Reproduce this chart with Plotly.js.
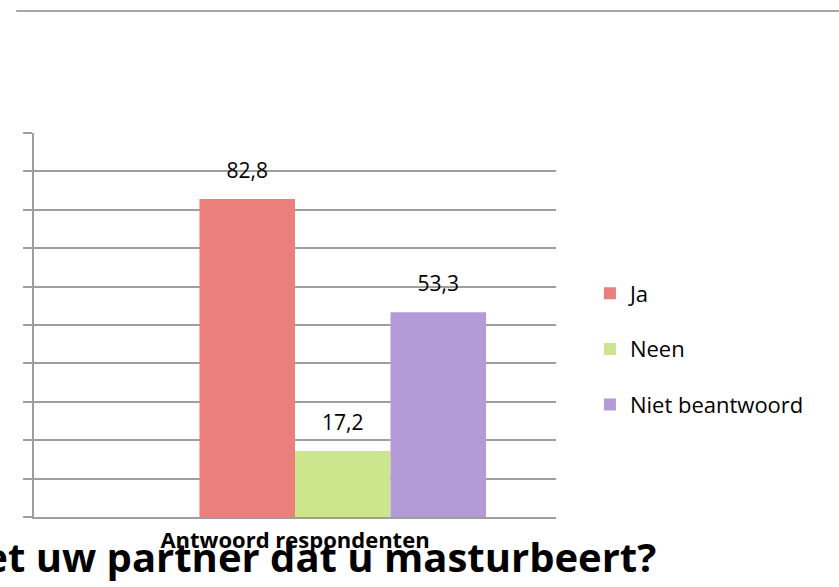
<!DOCTYPE html>
<html>
<head>
<meta charset="utf-8">
<script src="https://cdn.plot.ly/plotly-3.0.1.min.js"></script>
<style>html,body{margin:0;padding:0;background:#fff;}#chart{width:839px;height:587px;}</style>
</head>
<body>
<div id="chart"></div>
<script>
var categories = ["Antwoord respondenten"];
var seriesNames = ["Ja", "Neen", "Niet beantwoord"];
var seriesValues = [[82.8], [17.2], [53.3]];
var seriesColors = ["#ea7f7b", "#cbe68c", "#b39bd7"];
var titleText = "Weet uw partner dat u masturbeert?";

var traces = [];
// empty first series slot (present in the original chart, no value)
traces.push({type: "bar", x: categories, y: [null], showlegend: false, hoverinfo: "skip", offsetgroup: "s0", marker: {color: "rgba(0,0,0,0)"}});
for (var i = 0; i < seriesNames.length; i++) {
  traces.push({
    type: "bar",
    name: seriesNames[i],
    x: categories,
    y: seriesValues[i],
    legendgroup: "g" + i,
    offsetgroup: "s" + (i + 1),
    marker: {color: seriesColors[i]}
  });
}
// value labels, aligned to the bars through the same offset groups
traces.push({type: "scatter", mode: "markers", x: categories, y: [null], showlegend: false, offsetgroup: "s0", marker: {size: 1, opacity: 0}});
for (var j = 0; j < seriesNames.length; j++) {
  traces.push({
    type: "scatter",
    mode: "markers+text",
    x: categories,
    y: seriesValues[j],
    offsetgroup: "s" + (j + 1),
    showlegend: false,
    marker: {size: 24, opacity: 0},
    text: seriesValues[j].map(function(v){ return v.toFixed(1).replace(".", ","); }),
    textposition: "top center",
    textfont: {family: "Open Sans", size: 21, color: "#000"},
    cliponaxis: false
  });
}

var layout = {
  width: 839, height: 587,
  margin: {l: 34, r: 283, t: 133, b: 70},
  paper_bgcolor: "#fff", plot_bgcolor: "#fff",
  barmode: "group", bargap: 0.268, bargroupgap: 0,
  scattermode: "group", scattergap: 0.268,
  font: {family: "Open Sans", color: "#000"},
  showlegend: true,
  legend: {x: 1.065, xanchor: "left", y: 0.4375, yanchor: "middle", font: {family: "Open Sans", size: 22, color: "#000"},
           tracegroupgap: 24, traceorder: "grouped", itemwidth: 30},
  xaxis: {showline: true, linecolor: "#9e9e9e", linewidth: 2, tickfont: {family: "Open Sans", size: 22, color: "#000", weight: "bold"},
          ticks: "", showgrid: false, fixedrange: true, ticklabelstandoff: 3},
  yaxis: {range: [0, 100], dtick: 10, showticklabels: false, ticks: "outside", ticklen: 9, tickwidth: 2, tickcolor: "#9e9e9e",
          showgrid: true, gridcolor: "#9e9e9e", gridwidth: 2, showline: true, linecolor: "#9e9e9e", linewidth: 2, zeroline: false},
  shapes: [{type: "line", xref: "paper", yref: "paper", x0: -0.034, x1: 1.6, y0: 1.318, y1: 1.318, line: {color: "#a6a6a6", width: 2}}],
  annotations: [{text: "<b>" + titleText + "</b>", xref: "paper", yref: "paper", x: 1.196, xanchor: "right", y: -0.104, yanchor: "middle",
                 showarrow: false, font: {family: "Open Sans", size: 40, color: "#000"}}]
};

Plotly.newPlot("chart", traces, layout, {displayModeBar: false, staticPlot: true});
</script>
</body>
</html>
